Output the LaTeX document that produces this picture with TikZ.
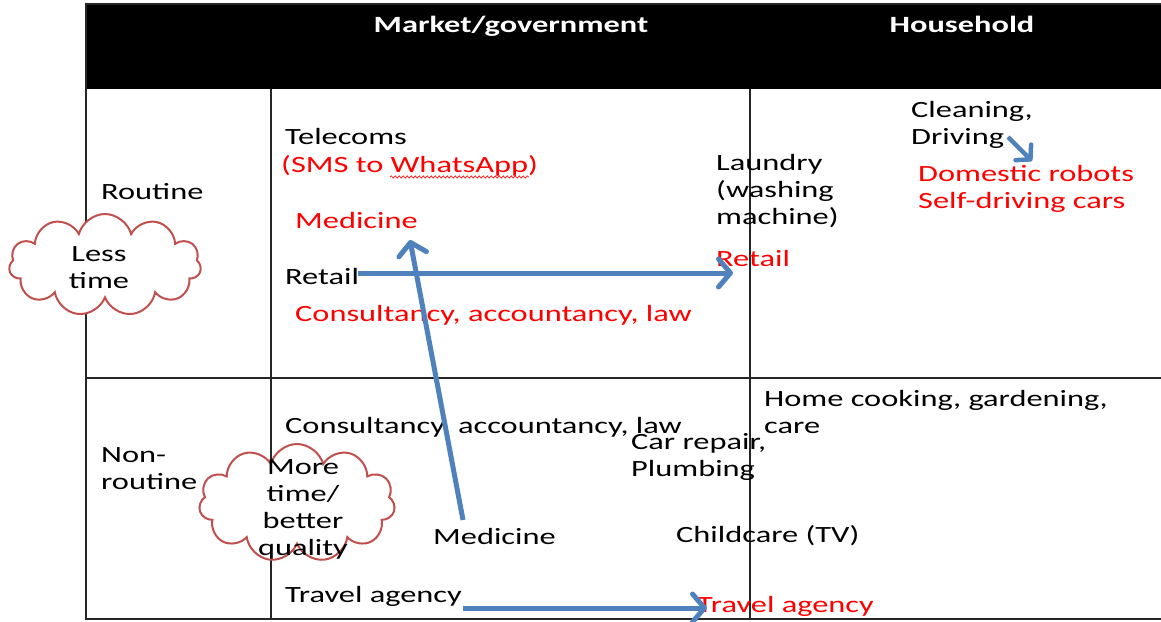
\documentclass[tikz,border=0pt]{standalone}
\usepackage{fontspec}
\setmainfont{Carlito}[FakeStretch=1.39]
\usetikzlibrary{arrows.meta,shapes.symbols,decorations.pathmorphing}
\definecolor{arrowblue}{HTML}{4F81BD}
\definecolor{cloudred}{HTML}{C0504D}
\definecolor{gridline}{HTML}{262626}

\begin{document}
\begin{tikzpicture}[x=1pt,y=-1pt,
  % multi-line texts sit on the baseline of their last line
  txt/.style={anchor=base west, inner sep=0pt, align=left,
    font=\fontsize{23.3}{27}\selectfont},
  newtxt/.style={txt, text=red},
  headtxt/.style={anchor=base, inner sep=0pt, text=white,
    font=\fontsize{23.3}{27}\selectfont\bfseries},
  cloudtxt/.style={inner sep=0pt, align=center,
    font=\fontsize{23.3}{27}\selectfont},
  bubble/.style={cloud, cloud puffs=11, cloud ignores aspect, draw=cloudred,
    line width=2pt, fill=white, inner sep=0pt},
  gridrule/.style={draw=gridline, line width=1.6pt},
  shiftarrow/.style={draw=arrowblue, line width=5pt,
    -{Straight Barb[length=12pt,width=28pt,round]}}
]
\useasboundingbox (0,0) rectangle (1161,621);

% table frame and header band
\fill[black] (86,4) rectangle (1170,89);
\draw[gridrule] (1170,619) -- (86,619) -- (86,4) -- (1170,4);
\draw[gridrule] (271,89) -- (271,619);
\draw[gridrule] (750,89) -- (750,619);
\draw[gridrule] (86,378) -- (1170,378);

% column headings
\node[headtxt] (hmarket) at (511,32) {Market/government};
\node[headtxt] (hhouse) at (962,32) {Household};

% row headings
\node[txt] (routine) at (101,199) {Routine};
\node[txt] (nonroutine) at (101,489) {Non-\\routine};

% clouds
\node[bubble, minimum width=192pt, minimum height=102pt] (lesscloud) at (105,265) {};
\node[cloudtxt] (lesstext) at (99,268) {Less\\time};
\node[bubble, minimum width=196pt, minimum height=118pt] (morecloud) at (297,503) {};

% routine, market/government
\node[txt] (telecoms) at (285,144) {Telecoms};
\node[newtxt] (sms) at (281,172) {(SMS to WhatsApp)};
\node[newtxt] (medicinenew) at (295,228) {Medicine};
\node[txt] (retail) at (285,284) {Retail};
\node[newtxt] (consultnew) at (295,321) {Consultancy, accountancy, law};

% routine, household
\node[txt] (laundry) at (716,224) {Laundry\\(washing\\machine)};
\node[newtxt] (retailnew) at (716,266) {Retail};
\node[txt] (cleaning) at (911,144) {Cleaning,\\Driving};
\node[newtxt] (robots) at (918,208) {Domestic robots\\Self-driving cars};

% non-routine
\node[txt] (consult) at (285,433) {Consultancy, accountancy, law};
\node[txt] (homecook) at (764,433) {Home cooking, gardening,\\care};
\node[txt] (carrepair) at (631,476) {Car repair,\\Plumbing};
\node[txt] (medicine) at (433,544) {Medicine};
\node[txt] (childcare) at (676,542) {Childcare (TV)};
\node[txt] (travel) at (285,602) {Travel agency};
\node[newtxt] (travelnew) at (697,612) {Travel agency};

\node[cloudtxt] (moretext) at (303,509) {More\\time/\\better\\quality};

% spell-check underline
\draw[red, line width=0.6pt, decorate,
  decoration={snake, amplitude=1.2pt, segment length=4pt}]
  (390,177) -- (529,177);

% shifts
\coordinate (retailstart) at (358,273);
\coordinate (retailend) at (733,273);
\coordinate (medstart) at (463,520);
\coordinate (medend) at (410,240);
\coordinate (travelstart) at (463,608);
\coordinate (travelend) at (707,608);
\coordinate (drivestart) at (1008,137);
\coordinate (driveend) at (1032,161);
\draw[shiftarrow] (retailstart) -- (retailend);
\draw[shiftarrow] (medstart) -- (medend);
\draw[shiftarrow] (travelstart) -- (travelend);
\draw[draw=arrowblue, line width=4.5pt,
  -{Straight Barb[length=10pt,width=22pt,round]}] (drivestart) -- (driveend);
\end{tikzpicture}
\end{document}
